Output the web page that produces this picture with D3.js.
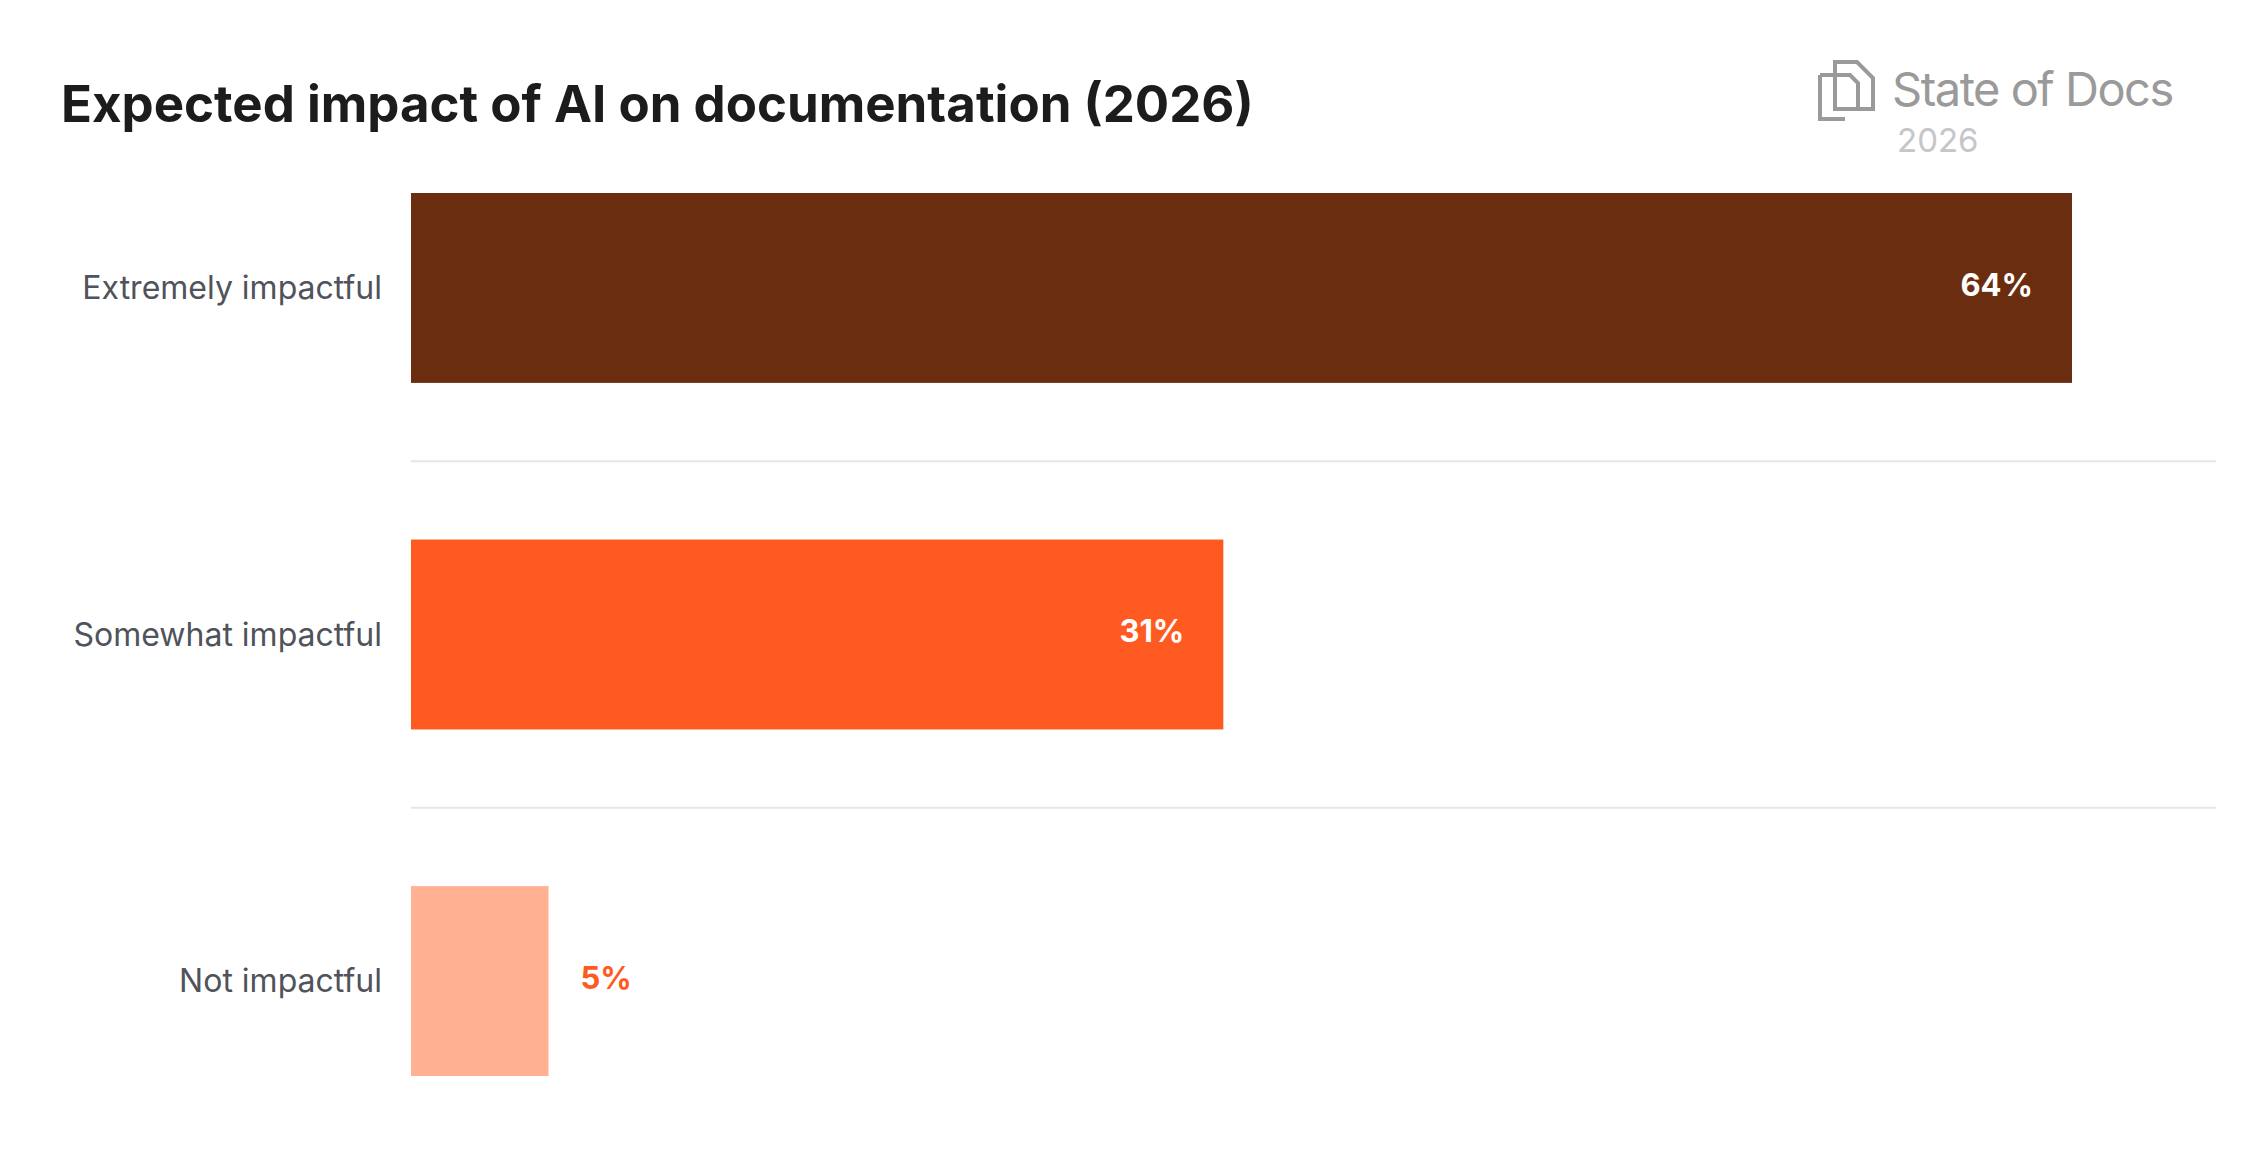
<!DOCTYPE html><html><head><meta charset="utf-8"><script src="https://cdn.jsdelivr.net/npm/d3@7"></script>
<style>body{margin:0;background:#fff}</style></head><body><svg id="c" width="2265" height="1176"></svg><script>
const categories=["Extremely impactful","Somewhat impactful","Not impactful"];
const values=[64,31.3,5.3];
const colors=["#6b2d0f","#ff5a21","#ffb192"];
const svg=d3.select("#c"),F="Inter, 'Noto Sans', sans-serif";
const x=d3.scaleLinear().domain([0,64]).range([411,2072]);
const y=d3.scaleBand().domain(categories).range([193,1076]).paddingInner(0.452).paddingOuter(0);
svg.append("text").attr("x",61).attr("y",122).attr("font-family",F).attr("font-weight",700).attr("font-size",51).attr("fill","#1c1c1c").text("Expected impact of AI on documentation (2026)");
const g=svg.append("g").attr("fill","none").attr("stroke","#9a9a9a").attr("stroke-width",4);
g.append("path").attr("d","M1820,75 V119 H1845 M1820,75 H1835");
g.append("path").attr("d","M1835,62 H1857 L1873,78 V109 H1835 Z M1835,75 H1850 L1858,83 V109");
svg.append("text").attr("x",1892).attr("y",106).attr("font-family",F).attr("font-size",47).attr("fill","#9a9a9a").attr("letter-spacing",-1.5).text("State of Docs");
svg.append("text").attr("x",1897).attr("y",152).attr("font-family",F).attr("font-size",33).attr("fill","#c6c6ca").text("2026");
[1,2].forEach(i=>{const yy=(y(categories[i-1])+y.bandwidth()+y(categories[i]))/2;
svg.append("line").attr("x1",411).attr("x2",2216).attr("y1",yy).attr("y2",yy).attr("stroke","#e6e6e6").attr("stroke-width",2);});
categories.forEach((c,i)=>{
svg.append("rect").attr("x",x(0)).attr("y",y(c)).attr("width",x(values[i])-x(0)).attr("height",y.bandwidth()).attr("fill",colors[i]);
svg.append("text").attr("x",382).attr("y",y(c)+y.bandwidth()/2).attr("dy","0.35em").attr("text-anchor","end").attr("font-family",F).attr("font-size",32).attr("fill","#50535b").text(c);
const inside=values[i]>15;
svg.append("text").attr("x",inside?x(values[i])-39:x(values[i])+32).attr("y",y(c)+y.bandwidth()/2-3).attr("dy","0.35em").attr("text-anchor",inside?"end":"start").attr("font-family",F).attr("font-weight",700).attr("font-size",31).attr("fill",inside?"#fff":"#ff5a21").text(Math.round(values[i])+"%");
});
</script></body></html>
